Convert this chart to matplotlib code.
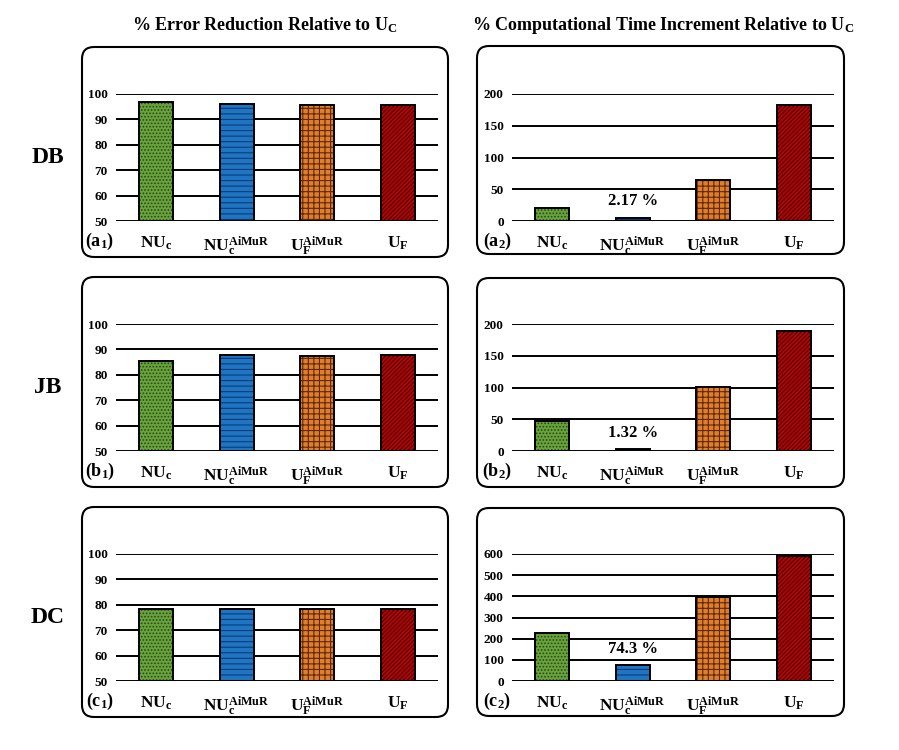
import numpy as np
import matplotlib
matplotlib.use("Agg")
import matplotlib.pyplot as plt
from matplotlib.patches import FancyBboxPatch

plt.rcParams['font.family'] = ['Liberation Serif', 'DejaVu Serif']
plt.rcParams['font.weight'] = 'bold'
plt.rcParams['mathtext.fontset'] = 'custom'
plt.rcParams['mathtext.rm'] = 'Liberation Serif:bold'
plt.rcParams['mathtext.it'] = 'Liberation Serif:bold'
plt.rcParams['mathtext.bf'] = 'Liberation Serif:bold'
plt.rcParams['hatch.linewidth'] = 0.8

# data
categories = [r'$\mathrm{NU_c}$', r'$\mathrm{NU_c^{AiMuR}}$',
              r'$\mathrm{U_F^{AiMuR}}$', r'$\mathrm{U_F}$']
err_db = [97.0, 96.1, 95.7, 95.7]
err_jb = [85.6, 87.6, 87.4, 87.8]
err_dc = [78.2, 78.2, 78.2, 78.2]
time_db = [21, 5, 65, 183]
time_jb = [48, 3, 101, 189]
time_dc = [226, 75, 398, 589]
time_notes = ['2.17 %', '1.32 %', '74.3 %']
row_names = ['DB', 'JB', 'DC']
left_tags = [r'$\mathrm{(a_1)}$', r'$\mathrm{(b_1)}$', r'$\mathrm{(c_1)}$']
right_tags = [r'$\mathrm{(a_2)}$', r'$\mathrm{(b_2)}$', r'$\mathrm{(c_2)}$']

face = ['#6AA33C', '#1F74C4', '#E27D2C', '#C00000']
hatch_col = ['#26481A', '#0B3D70', '#5A2A08', '#3A0000']
hatches = ['.....', '---', '+++', '////////']

W, H = 899, 750
fig = plt.figure(figsize=(W / 100, H / 100), dpi=100)

bg = fig.add_axes([0, 0, 1, 1], zorder=0)
bg.set_xlim(0, W)
bg.set_ylim(H, 0)
bg.axis('off')


def px_axes(x0, y0, x1, y1):
    ax = fig.add_axes([x0 / W, 1 - y1 / H, (x1 - x0) / W, (y1 - y0) / H], zorder=2)
    ax.set_facecolor('none')
    return ax


def box(x0, y0, x1, y1):
    bg.add_patch(FancyBboxPatch((x0, y0), x1 - x0, y1 - y0,
                                boxstyle="round,pad=0,rounding_size=12",
                                fc='white', ec='black', lw=1.5))


def draw_bars(ax, vals, ymin, ymax, step):
    x = np.arange(len(vals))
    for i, v in enumerate(vals):
        ax.bar(x[i], v - ymin, bottom=ymin, width=0.42, color=face[i],
               edgecolor=hatch_col[i], hatch=hatches[i], lw=0, zorder=3)
        ax.bar(x[i], v - ymin, bottom=ymin, width=0.42, fill=False,
               edgecolor='black', lw=1.4, zorder=4)
    ax.set_xlim(-0.5, 3.5)
    ax.set_ylim(ymin, ymax)
    ax.set_yticks(np.arange(ymin, ymax + 1, step))
    ax.yaxis.grid(True, color='black', lw=1.4)
    ax.set_axisbelow(True)
    for s in ax.spines.values():
        s.set_visible(False)
    ax.tick_params(length=0)
    ax.tick_params(axis='y', labelsize=9.5, pad=6)
    ax.set_xticks(x)
    ax.set_xticklabels(categories, fontsize=12.5)
    ax.tick_params(axis='x', pad=10)


left_boxes = [(82, 47, 448, 257), (82, 277, 448, 487), (82, 507, 448, 717)]
right_boxes = [(477, 46, 844, 254), (477, 278, 844, 487), (477, 508, 844, 716)]
plot_rows = [(94, 221), (324, 451), (554, 681)]

errs = [err_db, err_jb, err_dc]
times = [time_db, time_jb, time_dc]
time_lims = [(200, 50), (200, 50), (600, 100)]

for r in range(3):
    box(*left_boxes[r])
    box(*right_boxes[r])
    y0, y1 = plot_rows[r]

    axl = px_axes(116, y0, 438, y1)
    draw_bars(axl, errs[r], 50, 100, 10)
    axl.text(-0.05, -0.16, left_tags[r], transform=axl.transAxes,
             ha='center', va='center', fontsize=13)

    axr = px_axes(512, y0, 834, y1)
    top, step = time_lims[r]
    draw_bars(axr, times[r], 0, top, step)
    axr.text(-0.045, -0.16, right_tags[r], transform=axr.transAxes,
             ha='center', va='center', fontsize=13)
    axr.annotate(time_notes[r], xy=(1, times[r][1]), xytext=(0, 6),
                 textcoords='offset points', ha='center', va='bottom',
                 fontsize=12, fontweight='bold')

    fig.text(48 / W, 1 - (y0 + y1) / 2 / H, row_names[r], ha='center',
             va='center', fontsize=17, fontweight='bold')

fig.text(265 / W, 1 - 25 / H, r'% Error Reduction Relative to $\mathrm{U_C}$',
         ha='center', va='center', fontsize=13, fontweight='bold')
fig.text(663 / W, 1 - 25 / H,
         r'% Computational Time Increment Relative to $\mathrm{U_C}$',
         ha='center', va='center', fontsize=13, fontweight='bold')

fig.savefig('out.png', dpi=100)
